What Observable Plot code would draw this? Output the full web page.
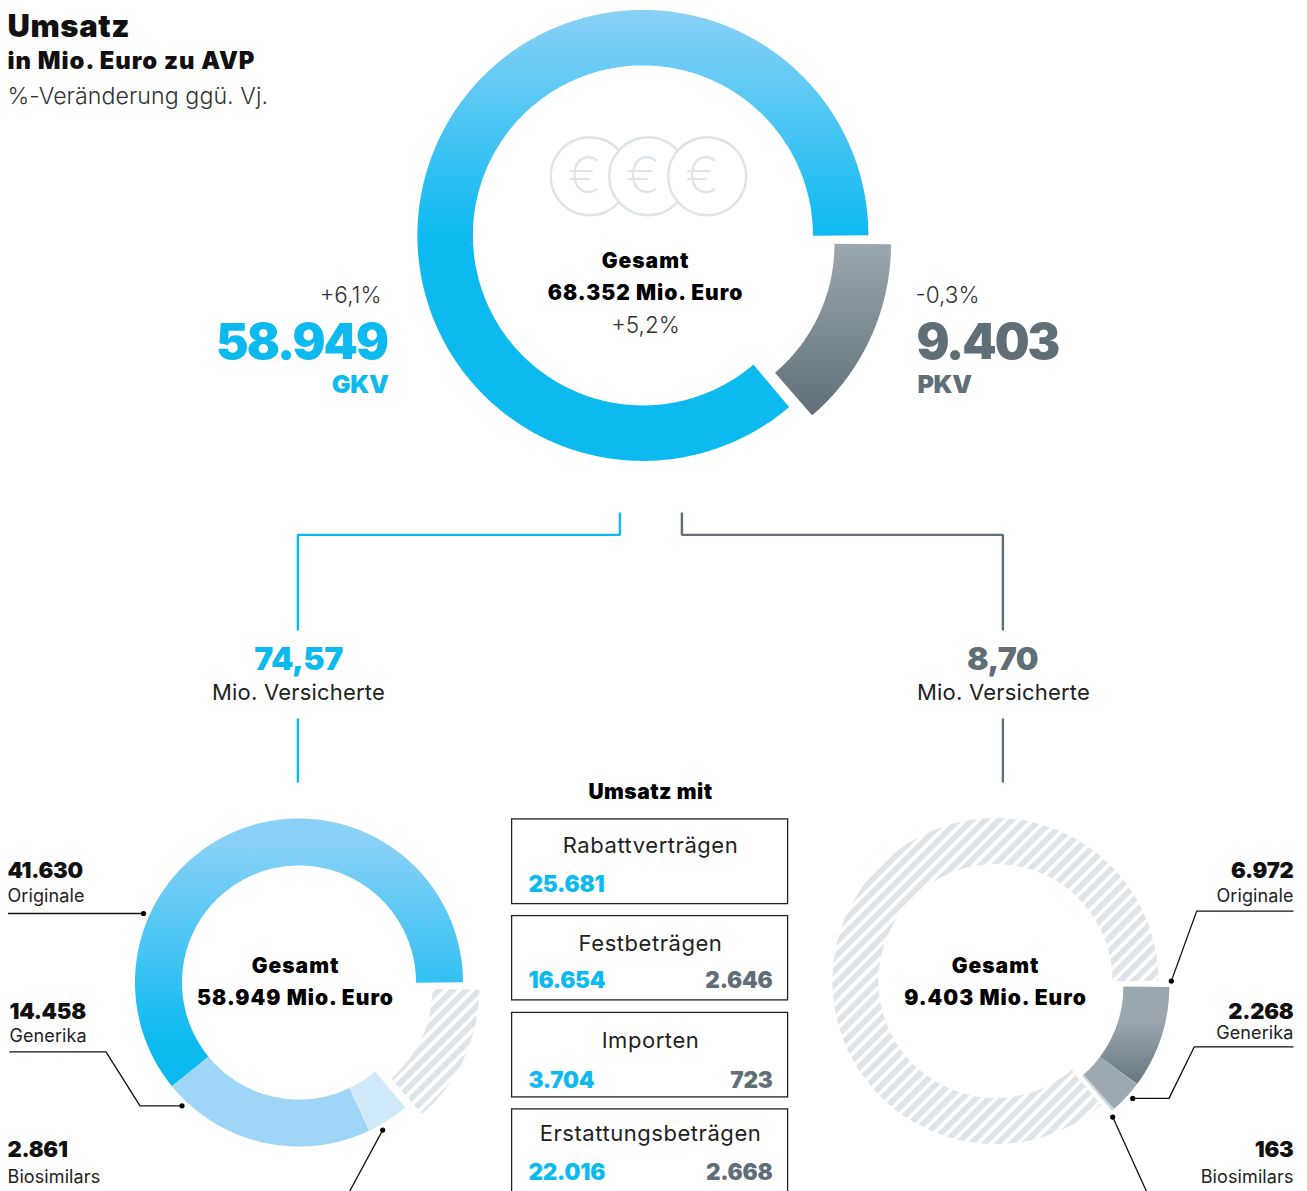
<!DOCTYPE html>
<html lang="de">
<head>
<meta charset="utf-8">
<script src="https://cdn.jsdelivr.net/npm/d3@7"></script>
<script src="https://cdn.jsdelivr.net/npm/@observablehq/plot@0.6"></script>
<style>
html,body{margin:0;padding:0;background:#fff;overflow:hidden}
svg{display:block}
</style>
</head>
<body>
<div id="chart"></div>
<script>
// ---- data ----
const total = 68352;
const gkvTotal = 58949;
const pkvTotal = 9403;
const productTypes = ["Originale", "Generika", "Biosimilars"];
const gkvByType = [41630, 14458, 2861];
const pkvByType = [6972, 2268, 163];
const insuredLabels = ["74,57", "8,70"];
const changeLabels = ["+6,1%", "-0,3%", "+5,2%"];
const contractTypes = ["Rabattverträgen", "Festbeträgen", "Importen", "Erstattungsbeträgen"];
const gkvContractLabels = ["25.681", "16.654", "3.704", "22.016"];
const pkvContractLabels = ["", "2.646", "723", "2.668"];

// ---- style ----
const BLUE = "#0DBAF0", GREY = "#5F6E77", HATCH = "#DFE4E8", INK = "#111";
const FONT = "Inter, Lato, sans-serif";
const W = 1307, H = 1191;

// value -> polar points on a ring, clockwise degrees from 12 o'clock
const DEG = Math.PI / 180;
const toDeg = v => v / total * 360;
function arcPoints(c, r, from, to) {
  const n = Math.max(2, Math.ceil(Math.abs(to - from)));
  return d3.range(n + 1).map(i => {
    const a = (from + (to - from) * i / n) * DEG;
    return {x: c[0] + r * Math.sin(a), y: c[1] - r * Math.cos(a)};
  });
}
// ring segment as a thick polar line, the sweep coming straight from the value
function ring(c, outer, inner, from, value, dir, stroke) {
  const to = from + dir * toDeg(value);
  return Plot.line(arcPoints(c, (outer + inner) / 2, from, to), {
    x: "x", y: "y", stroke, strokeWidth: outer - inner,
    strokeLinecap: "butt", strokeLinejoin: "miter", curve: "linear"
  });
}
// segments that follow each other counter-clockwise from 3 o'clock
function ccwSegments(c, outer, inner, values, strokes) {
  let from = 90;
  return values.map((v, i) => {
    const m = ring(c, outer, inner, from, v, -1, strokes[i]);
    from -= toDeg(v);
    return m;
  });
}

// ---- marks ----
const defs = (index, {x, y}) => {
  const svg = d3.create("svg:defs");
  const grad = (id, stops, y1, y2) => {
    const g = svg.append("linearGradient").attr("id", id)
      .attr("gradientUnits", "userSpaceOnUse")
      .attr("x1", 0).attr("x2", 0).attr("y1", y(y1)).attr("y2", y(y2));
    stops.forEach(([o, col]) => g.append("stop").attr("offset", o).attr("stop-color", col));
  };
  grad("gBlueTop", [[0, "#8AD1F7"], [1, BLUE]], 10, 235);
  grad("gGreyTop", [[0, "#9BA7AE"], [1, GREY]], 244, 417);
  grad("gBlueLow", [[0, "#8AD1F7"], [0.1, "#8AD1F7"], [1, BLUE]], 818, 1040);
  grad("gGreyLow", [[0, "#9BA7AE"], [0.35, "#9BA7AE"], [1, "#687780"]], 987, 1082);
  const pat = svg.append("pattern").attr("id", "hatch").attr("patternUnits", "userSpaceOnUse")
    .attr("width", 9.5).attr("height", 9.5).attr("patternTransform", "rotate(45)");
  pat.append("rect").attr("width", 5.9).attr("height", 9.5).attr("fill", HATCH);
  return svg.node();
};

const styles = {
  title:  {fontSize: 31, fontWeight: 900, fill: INK, ls: 0.6},
  sub:    {fontSize: 23.8, fontWeight: 900, fill: INK, ls: 1},
  note:   {fontSize: 23.2, fontWeight: 300, fill: "#333", ls: 0.05},
  big:    {fontSize: 49, fontWeight: 900, ls: -2},
  tag:    {fontSize: 25, fontWeight: 900, ls: -0.3},
  center: {fontSize: 21, fontWeight: 900, fill: "#000", ls: 1},
  mit:    {fontSize: 21, fontWeight: 900, fill: "#000", ls: 0.5},
  change: {fontSize: 22.5, fontWeight: 300, fill: "#333"},
  ins:    {fontSize: 32, fontWeight: 900, ls: -0.5},
  reg:    {fontSize: 22, fontWeight: 400, fill: "#222", ls: 0.2},
  boxT:   {fontSize: 22, fontWeight: 400, fill: "#222", ls: 0.55},
  val:    {fontSize: 22.5, fontWeight: 900, ls: -0.25},
  num:    {fontSize: 22, fontWeight: 900, fill: INK, ls: -0.25},
  small:  {fontSize: 18, fontWeight: 400, fill: "#222", ls: 0.1}
};
const fmt = v => d3.format(",")(v).replace(/,/g, ".");
const T = (text, x, y, style, textAnchor = "start", fill) => {
  const {ls = 0, ...st} = styles[style];
  return Plot.text([text], {
    x: () => x - (textAnchor === "start" ? 1 : 0), y: () => y - 0.8, text: d => d, textAnchor, lineAnchor: "bottom",
    fontFamily: FONT, ...st, ...(fill ? {fill} : {}),
    render: (i, s, v, d, c, next) => {
      const g = next(i, s, v, d, c);
      g.style.letterSpacing = `${ls}px`;
      return g;
    }
  });
};
const path = (pts, stroke, strokeWidth) => Plot.line(pts, {
  x: "0", y: "1", stroke, strokeWidth, strokeLinecap: "butt", strokeLinejoin: "miter", curve: "linear"
});
const dots = pts => Plot.dot(pts, {x: "0", y: "1", r: 2.6, fill: "#000", stroke: "none"});

const cMain = [642.4, 234.9], cMainOut = [665, 243.5];
const cL = [298.5, 982], cLOut = [314.8, 988.8];
const cR = [995, 980.5], cROut = [1005.8, 986.2];
const coinX = [589.2, 647.7, 706.7], coinY = 175.7;
const boxTop = [819.3, 916, 1012.8, 1109.3], boxBottom = [904, 1000.3, 1097.3, 1200];
const boxTitleY = [853, 951, 1048, 1141], boxValY = [892.5, 988.5, 1088.5, 1180.5];

const chart = Plot.plot({
  width: W, height: H, margin: 0,
  x: {domain: [0, W], axis: null},
  y: {domain: [H, 0], axis: null},
  style: {background: "#fff", overflow: "hidden"},
  marks: [
    defs,
    // main donut
    ring(cMain, 225.5, 170, 90, gkvTotal, -1, "url(#gBlueTop)"),
    ring(cMainOut, 225.5, 169, 90, pkvTotal, 1, "url(#gGreyTop)"),
    // coins
    coinX.flatMap(cx => [
      Plot.dot([cx], {x: d => d, y: () => coinY, r: 39, fill: "#fff", stroke: HATCH, strokeWidth: 2.4}),
      Plot.text(["€"], {x: () => cx - 5, y: () => coinY + 1, text: d => d, fontFamily: FONT, fontWeight: 200, fontSize: 50, fill: HATCH})
    ]),
    // connectors from the main donut
    path([[619.4, 512], [619.4, 534.4], [297.4, 534.4], [297.4, 630]], BLUE, 2.4),
    path([[297.4, 718], [297.4, 782]], BLUE, 2.4),
    path([[681.4, 512], [681.4, 534.4], [1002.4, 534.4], [1002.4, 630]], GREY, 2.4),
    path([[1002.4, 718], [1002.4, 782]], GREY, 2.4),
    // lower-left donut
    ccwSegments(cL, 164, 117, gkvByType, ["url(#gBlueLow)", "#9FD5F6", "#D1EAFA"]),
    ring(cLOut, 164, 117, 90, pkvTotal, 1, "url(#hatch)"),
    // lower-right donut
    ring(cR, 163, 117, 90, gkvTotal, -1, "url(#hatch)"),
    (() => {
      let from = 90;
      const strokes = ["url(#gGreyLow)", "#9DA9B0", "#CBD3D7"];
      return pkvByType.map((v, i) => {
        const m = ring(cROut, 163, 117, from, v, 1, strokes[i]);
        from += toDeg(v);
        return m;
      });
    })(),
    // callout leaders
    path([[7.5, 913], [143, 913]], INK, 1.3),
    path([[9, 1051.3], [105.5, 1051.3], [139.5, 1105.3], [181.5, 1105.3]], INK, 1.3),
    path([[382.2, 1129.6], [348.5, 1192]], INK, 1.3),
    path([[1293, 910.6], [1196.2, 910.6], [1170.8, 980.6]], INK, 1.3),
    path([[1293, 1046.3], [1193.8, 1046.3], [1168.5, 1097.9], [1132.2, 1097.9]], INK, 1.3),
    path([[1112.2, 1116.6], [1146.5, 1192]], INK, 1.3),
    dots([[143, 913], [181.5, 1105.3], [382.2, 1129.6], [1170.8, 980.6], [1132.2, 1097.9], [1112.2, 1116.6]]),
    // boxes
    Plot.rect(contractTypes, {
      x1: () => 511.6, x2: () => 787.6, y1: (d, i) => boxTop[i] - 0.4, y2: (d, i) => boxBottom[i] - 0.4,
      fill: "none", stroke: "#222", strokeWidth: 1.3
    }),
    // text
    T("Umsatz", 8, 37, "title"),
    T("in Mio. Euro zu AVP", 8, 69, "sub"),
    T("%-Veränderung ggü. Vj.", 8, 104, "note"),
    T(changeLabels[0], 381, 303, "change", "end"),
    T(fmt(gkvTotal), 386.5, 359, "big", "end", BLUE),
    T("GKV", 388, 393, "tag", "end", BLUE),
    T(changeLabels[1], 916, 303, "change"),
    T(fmt(pkvTotal), 917, 359, "big", "start", GREY),
    T("PKV", 918, 393, "tag", "start", GREY),
    T("Gesamt", 645, 268, "center", "middle"),
    T(`${fmt(total)} Mio. Euro`, 645, 300, "center", "middle"),
    T(changeLabels[2], 645, 333, "change", "middle"),
    T(insuredLabels[0], 298, 670, "ins", "middle", BLUE),
    T("Mio. Versicherte", 298, 700, "reg", "middle"),
    T(insuredLabels[1], 1002, 670, "ins", "middle", GREY),
    T("Mio. Versicherte", 1003, 700, "reg", "middle"),
    T("Umsatz mit", 650, 799, "mit", "middle"),
    contractTypes.flatMap((c, i) => [
      T(c, 650, boxTitleY[i], "boxT", "middle"),
      T(gkvContractLabels[i], 529, boxValY[i], "val", "start", BLUE),
      pkvContractLabels[i] ? T(pkvContractLabels[i], 772, boxValY[i], "val", "end", GREY) : null
    ]),
    T("Gesamt", 295, 973, "center", "middle"),
    T(`${fmt(gkvTotal)} Mio. Euro`, 295, 1005, "center", "middle"),
    T("Gesamt", 995, 973, "center", "middle"),
    T(`${fmt(pkvTotal)} Mio. Euro`, 995, 1005, "center", "middle"),
    T(fmt(gkvByType[0]), 8, 878, "num"),
    T(productTypes[0], 8, 902, "small"),
    T(fmt(gkvByType[1]), 10, 1019, "num"),
    T(productTypes[1], 10, 1042, "small"),
    T(fmt(gkvByType[2]), 8, 1157, "num"),
    T(productTypes[2], 8, 1183, "small"),
    T(fmt(pkvByType[0]), 1293, 878, "num", "end"),
    T(productTypes[0], 1293, 902, "small", "end"),
    T(fmt(pkvByType[1]), 1293, 1019, "num", "end"),
    T(productTypes[1], 1293, 1039, "small", "end"),
    T(fmt(pkvByType[2]), 1293, 1157, "num", "end"),
    T(productTypes[2], 1293, 1183, "small", "end")
  ]
});
document.getElementById("chart").append(chart);
</script>
</body>
</html>
